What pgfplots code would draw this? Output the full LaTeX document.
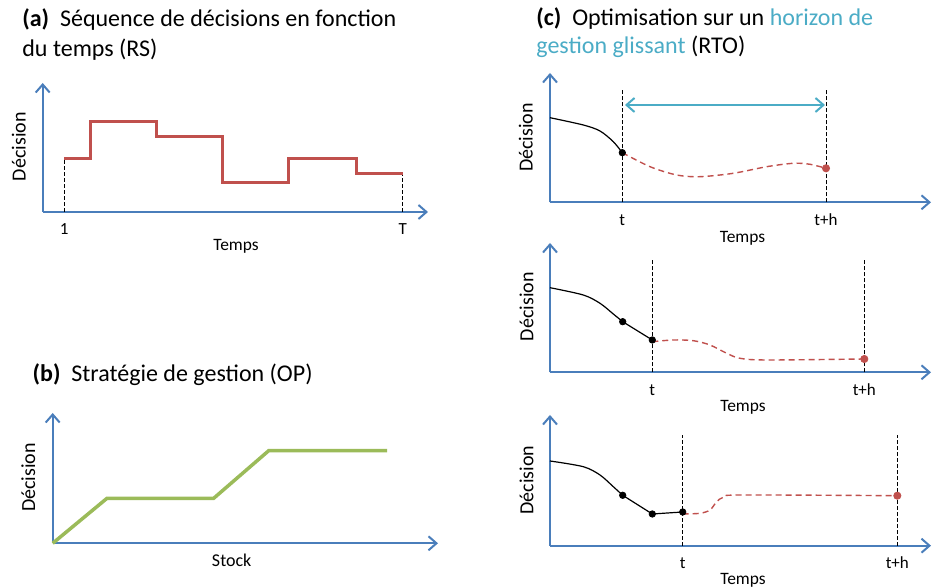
\documentclass[border=0pt]{standalone}
\usepackage{fontspec}
\setmainfont{Carlito}
\usepackage{pgfplots}
\pgfplotsset{compat=1.18}
\usetikzlibrary{arrows.meta}
\definecolor{axblue}{HTML}{4A7EBB}
\definecolor{stepred}{HTML}{C0504D}
\definecolor{ogreen}{HTML}{9BBB59}
\definecolor{aqua}{HTML}{4BACC6}
\tikzset{
 lab/.style={font=\fontsize{8.7}{10}\selectfont},
 ylab/.style={font=\fontsize{10}{12}\selectfont, rotate=90},
 ttl/.style={font=\fontsize{12}{14}\selectfont, anchor=base west, inner sep=0pt},
}
\pgfplotsset{
 panel/.style={
  anchor=south west, x=0.5pt, y=0.5pt, enlargelimits=false, clip=false,
  axis lines=left,
  x axis line style={axblue, line width=1pt, -{Straight Barb[length=4pt,width=7pt]}},
  y axis line style={axblue, line width=1pt, -{Straight Barb[length=4pt,width=7pt]}},
  ytick=\empty, xtick=\empty, major tick length=0pt,
  xticklabel style={font=\fontsize{8.5}{10}\selectfont, anchor=base, yshift=-11.5pt},
  /pgf/number format/assume math mode=true,
 },
 vdash/.style={black, line width=0.4pt, dash pattern=on 2pt off 1pt},
 rdash/.style={stepred, line width=0.7pt, dash pattern=on 3pt off 2pt, smooth},
 bdot/.style={only marks, mark=*, mark size=1.6pt, black},
 rdot/.style={only marks, mark=*, mark size=1.8pt, stepred, mark options={fill=stepred}},
}
\begin{document}
\begin{tikzpicture}
\path[use as bounding box] (0pt,0pt) rectangle (466pt,294pt);
% ---------------- (a)
\begin{axis}[panel, at={(21.35pt,188pt)}, xmin=42.7, xmax=428, ymin=376, ymax=505,
  xtick={64.3,402.7}, xticklabels={1,T}]
\addplot[vdash] coordinates {(64.3,376) (64.3,429)};
\addplot[vdash] coordinates {(402.7,376) (402.7,414.7)};
\addplot[stepred, line width=1.5pt, const plot] coordinates {(64.3,429) (90.7,466.3) (156.7,451.3) (222.3,405.7) (288.3,429.7) (356,414.7) (402.7,414.7)};
\node[ttl] at (axis cs:22,561.3) {\textbf{(a)}\ \ Séquence de décisions en fonction};
\node[ttl] at (axis cs:22,531.3) {du temps (RS)};
\node[lab] at (axis cs:236,342) {Temps};
\node[ylab] at (axis cs:18.8,441.3) {Décision};
\end{axis}
% ---------------- (b)
\begin{axis}[panel, at={(26.35pt,22.35pt)}, xmin=52.7, xmax=438, ymin=44.7, ymax=175]
\addplot[ogreen, line width=1.75pt] coordinates {(52.7,44.7) (107,89.7) (213.7,89.7) (268.7,137.3) (387,137.3)};
\node[ttl] at (axis cs:32.3,206.3) {\textbf{(b)}\ \ Stratégie de gestion (OP)};
\node[font=\fontsize{9}{10}\selectfont] at (axis cs:231.7,28) {Stock};
\node[ylab] at (axis cs:28.3,110.5) {Décision};
\end{axis}
% ---------------- (c) top
\begin{axis}[panel, at={(275pt,192.85pt)}, xmin=550, xmax=931, ymin=385.7, ymax=515,
  xtick={622.3,826}, xticklabels={t,t+h}]
\addplot[vdash] coordinates {(622.3,385.7) (622.3,498)};
\addplot[vdash] coordinates {(826,385.7) (826,498)};
\addplot[aqua, line width=1pt, {Straight Barb[length=4pt,width=7pt]}-{Straight Barb[length=4pt,width=7pt]}] coordinates {(625,483) (825,483)};
\addplot[black, line width=0.6pt, smooth] coordinates {(550,470.3) (583.3,463) (600,457) (613.3,446.3) (622.3,435.3)};
\addplot[rdash] coordinates {(622.3,435.3) (650,421.3) (676.7,413) (700,411.3) (733.3,414.7) (766.7,421.3) (793.3,424.7) (810,423.7) (826,419.7)};
\addplot[bdot] coordinates {(622.3,435.3)};
\addplot[rdot] coordinates {(826,419.7)};
\node[ttl] at (axis cs:536,562) {\textbf{(c)}\ \ Optimisation sur un \textcolor{aqua}{horizon de}};
\node[ttl] at (axis cs:536,534.7) {\textcolor{aqua}{gestion glissant} (RTO)};
\node[lab] at (axis cs:742.5,350) {Temps};
\node[ylab] at (axis cs:525.8,450.5) {Décision};
\end{axis}
% ---------------- (c) middle
\begin{axis}[panel, at={(275pt,107.85pt)}, xmin=550, xmax=931, ymin=215.7, ymax=345,
  xtick={652.3,864.3}, xticklabels={t,t+h}]
\addplot[vdash] coordinates {(652.3,215.7) (652.3,328)};
\addplot[vdash] coordinates {(864.3,215.7) (864.3,328)};
\addplot[black, line width=0.6pt, smooth] coordinates {(550,300.3) (583.3,293) (600,284.7) (613.3,274) (622.7,266.3)};
\addplot[black, line width=0.6pt] coordinates {(622.7,266.3) (652.3,248)};
\addplot[rdash] coordinates {(652.3,246.3) (673.3,248) (693.3,247.3) (710,243) (726.7,234.7) (740,229.7) (766.7,228) (864.3,229)};
\addplot[bdot] coordinates {(622.7,266.3) (652.3,248)};
\addplot[rdot] coordinates {(864.3,229)};
\node[lab] at (axis cs:743,181) {Temps};
\node[ylab] at (axis cs:526.5,281.3) {Décision};
\end{axis}
% ---------------- (c) bottom
\begin{axis}[panel, at={(275pt,21.15pt)}, xmin=550, xmax=931, ymin=42.3, ymax=173,
  xtick={682.7,897.3}, xticklabels={t,t+h}]
\addplot[vdash] coordinates {(682.7,42.3) (682.7,153)};
\addplot[vdash] coordinates {(897.3,42.3) (897.3,153)};
\addplot[black, line width=0.6pt, smooth] coordinates {(550,127) (583.3,121.3) (600,113) (613.3,101.3) (622.7,92.7)};
\addplot[black, line width=0.6pt] coordinates {(622.7,92.7) (652.3,74) (682.7,76)};
\addplot[rdash] coordinates {(682.7,74) (700,74.7) (710,78) (716.7,86.3) (723.3,90.7) (740,93) (897.3,92.3)};
\addplot[bdot] coordinates {(622.7,92.7) (652.3,74) (682.7,76)};
\addplot[rdot] coordinates {(897.3,92.3)};
\node[lab] at (axis cs:743,8) {Temps};
\node[ylab] at (axis cs:526.5,108) {Décision};
\end{axis}
\end{tikzpicture}
\end{document}
